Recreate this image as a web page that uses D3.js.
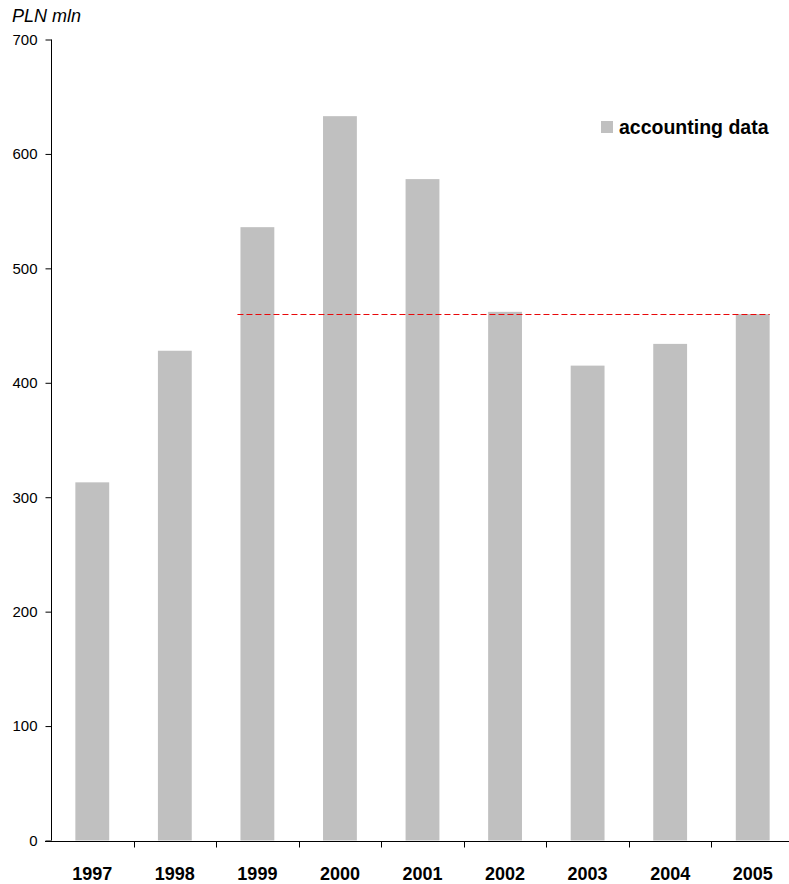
<!DOCTYPE html>
<html>
<head>
<meta charset="utf-8">
<script src="https://cdn.jsdelivr.net/npm/d3@7"></script>
<style>
  html, body { margin: 0; padding: 0; background: #fff; }
  svg { display: block; font-family: "Liberation Sans", Arial, sans-serif; }
</style>
</head>
<body>
<svg id="chart" width="789" height="884"></svg>
<script>
// Annual values, PLN mln
const years = ["1997", "1998", "1999", "2000", "2001", "2002", "2003", "2004", "2005"];
const values = [313, 428, 536, 633, 578, 462, 415, 434, 460];
const yTicks = [0, 100, 200, 300, 400, 500, 600, 700];
// Reference level drawn across 1999–2005
const refLevel = 460;
const refFrom = "1999";
const refTo = "2005";
const seriesName = "accounting data";
const unitLabel = "PLN mln";

const svg = d3.select("#chart");

const x = d3.scaleBand()
  .domain(years)
  .range([51, 794])
  .paddingInner(0.59)
  .paddingOuter(0.295);

const y = d3.scaleLinear()
  .domain([0, 700])
  .range([840.5, 39.5]);

// Bars
svg.append("g")
  .selectAll("rect")
  .data(years)
  .join("rect")
  .attr("x", d => x(d))
  .attr("width", x.bandwidth())
  .attr("y", (d, i) => y(values[i]))
  .attr("height", (d, i) => y(0) - y(values[i]))
  .attr("fill", "#c0c0c0");

// Dashed reference line
svg.append("line")
  .attr("x1", x(refFrom) - 3)
  .attr("x2", x(refTo) + x.bandwidth())
  .attr("y1", Math.round(y(refLevel)) + 0.5)
  .attr("y2", Math.round(y(refLevel)) + 0.5)
  .attr("stroke", "#e8080a")
  .attr("stroke-width", 1)
  .attr("stroke-dasharray", "6,3");

// Y axis
const yAxis = svg.append("g")
  .attr("transform", "translate(51.5,0)")
  .call(d3.axisLeft(y).tickValues(yTicks).tickSize(6).tickPadding(8));
yAxis.select(".domain").attr("stroke", "#000").attr("d", `M0,${y(700)}V${y(0)}`);
yAxis.selectAll(".tick line").attr("stroke", "#000");
yAxis.selectAll(".tick text")
  .attr("fill", "#000")
  .style("font-size", "15px");

// X axis: ticks at category boundaries
const step = x.step();
const x0 = x.range()[0];
const xAxisG = svg.append("g").attr("transform", `translate(0,${Math.round(y(0)) + 0.5})`);
xAxisG.append("line")
  .attr("x1", 45).attr("x2", 800)
  .attr("stroke", "#000");
xAxisG.selectAll("line.tk")
  .data(d3.range(1, years.length))
  .join("line")
  .attr("class", "tk")
  .attr("x1", i => Math.round(x0 + i * step) + 0.5)
  .attr("x2", i => Math.round(x0 + i * step) + 0.5)
  .attr("y1", 0).attr("y2", 6)
  .attr("stroke", "#000");
xAxisG.selectAll("text")
  .data(years)
  .join("text")
  .attr("x", d => x(d) + x.bandwidth() / 2)
  .attr("y", 38.5)
  .attr("text-anchor", "middle")
  .style("font-size", "18px")
  .style("font-weight", "bold")
  .text(d => d);

// Unit label
svg.append("text")
  .attr("x", 12)
  .attr("y", 22)
  .style("font-size", "18px")
  .style("font-style", "italic")
  .text(unitLabel);

// Legend
const legend = svg.append("g").attr("transform", "translate(601,121)");
legend.append("rect")
  .attr("width", 12).attr("height", 12)
  .attr("fill", "#c0c0c0");
legend.append("text")
  .attr("x", 18)
  .attr("y", 13)
  .style("font-size", "19.5px")
  .style("font-weight", "bold")
  .text(seriesName);
</script>
</body>
</html>
